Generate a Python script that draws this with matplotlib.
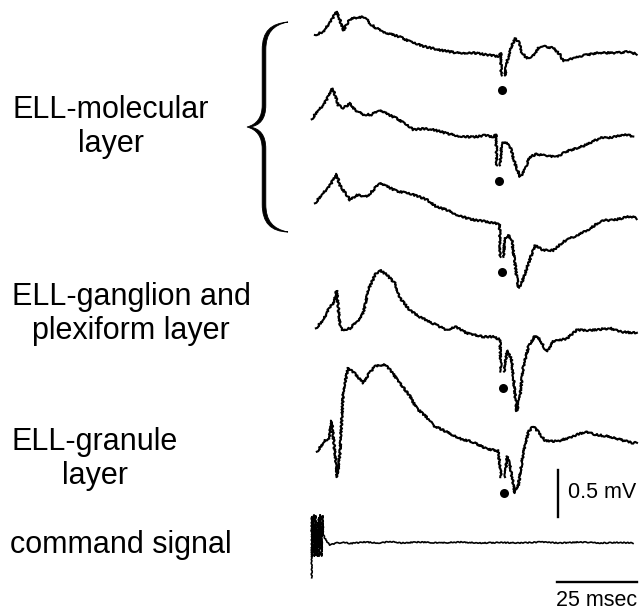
import matplotlib

matplotlib.use("Agg")
import matplotlib.pyplot as plt
import numpy as np
from matplotlib.path import Path
from matplotlib.patches import PathPatch
from matplotlib.transforms import Affine2D

nan = np.nan

# --- field potential traces, time in ms after command, amplitude in mV ---
mol1_t = [0.6, 3.2, 5.8, 7.4, 8.4, 9.5, 10.5, 11.6, 14.2, 16.3, 17.8, 19.9, 23.0, 27.2,
          30.3, 34.5, 39.7, 44.9, 50.1, 54.3, 58.1, 58.7, 58.8, nan, 60.0, 60.5, 61.6,
          63.1, 64.2, 65.2, 66.8, 68.8, 70.4, 72.5, 75.1, 77.2, 78.2, 81.3, 85.5, 89.7,
          94.9, 98.0, 101.2]
mol1_mv = [0.0, 0.035, 0.16, 0.25, 0.16, 0.05, 0.11, 0.17, 0.19, 0.19, 0.12, 0.07, 0.02,
           -0.02, -0.07, -0.12, -0.16, -0.19, -0.19, -0.21, -0.23, -0.19, -0.43, nan,
           -0.43, -0.30, -0.16, -0.035, -0.07, -0.18, -0.25, -0.22, -0.14, -0.12, -0.14,
           -0.21, -0.28, -0.25, -0.21, -0.19, -0.19, -0.18, -0.20]

mol2_t = [-0.4, 1.2, 3.2, 4.8, 6.0, 6.9, 7.9, 9.5, 11.6, 13.1, 15.7, 18.3, 20.9, 23.5,
          26.2, 29.3, 31.3, 34.5, 37.6, 41.8, 45.9, 50.1, 53.8, 56.3, 57.2, 57.4, nan,
          58.4, 59.0, 60.0, 61.6, 63.1, 64.7, 65.7, 67.8, 69.9, 73.0, 76.2, 79.3, 82.4,
          85.5, 89.7, 93.8, 96.9, 100.1]
mol2_mv = [0.0, 0.08, 0.15, 0.24, 0.33, 0.26, 0.15, 0.12, 0.17, 0.10, 0.05, 0.05, 0.10,
           0.05, 0.01, -0.06, -0.11, -0.10, -0.11, -0.15, -0.18, -0.19, -0.17, -0.19,
           -0.16, -0.49, nan, -0.49, -0.26, -0.24, -0.29, -0.47, -0.61, -0.57, -0.40,
           -0.37, -0.39, -0.40, -0.34, -0.31, -0.27, -0.20, -0.19, -0.16, -0.18]

mol3_t = [0.6, 2.7, 5.3, 7.4, 8.4, 10.5, 11.6, 13.7, 16.8, 18.8, 20.9, 23.0, 26.2, 29.3,
          32.4, 35.5, 38.7, 41.8, 44.9, 49.1, 53.2, 56.3, 58.3, 58.5, nan, 59.5, 60.0,
          61.0, 62.1, 63.1, 64.2, 65.2, 67.3, 69.4, 72.0, 75.1, 78.2, 82.4, 86.6, 90.2,
          93.8, 99.1, 101.2]
mol3_mv = [0.0, 0.09, 0.19, 0.31, 0.19, 0.09, 0.035, 0.09, 0.07, 0.14, 0.22, 0.18, 0.13,
           0.11, 0.08, 0.04, -0.04, -0.07, -0.12, -0.17, -0.19, -0.21, -0.22, -0.57, nan,
           -0.57, -0.37, -0.34, -0.39, -0.64, -0.90, -0.85, -0.64, -0.45, -0.50, -0.50,
           -0.41, -0.34, -0.27, -0.18, -0.18, -0.14, -0.16]

gang_t = [0.9, 3.2, 5.3, 6.3, 7.4, 8.4, 9.0, 11.6, 14.2, 15.7, 17.3, 19.4, 20.9, 23.0,
          25.6, 27.2, 30.3, 33.4, 37.6, 41.8, 44.4, 48.0, 53.2, 56.3, 58.4, 58.8, nan,
          59.7, 60.5, 61.0, 62.1, 63.1, 63.7, 64.7, 65.7, 67.3, 69.4, 70.9, 73.0, 75.1,
          79.3, 82.4, 86.6, 92.8, 96.9, 101.2]
gang_mv = [0.0, 0.09, 0.23, 0.25, 0.40, 0.05, -0.02, 0.0, 0.09, 0.16, 0.41, 0.57, 0.62,
           0.57, 0.48, 0.32, 0.19, 0.12, 0.05, -0.02, 0.02, -0.05, -0.09, -0.09, -0.12,
           -0.46, nan, -0.46, -0.27, -0.24, -0.34, -0.69, -0.88, -0.73, -0.41, -0.20,
           -0.08, -0.12, -0.25, -0.14, -0.11, -0.02, -0.02, 0.0, -0.04, -0.05]

gran_t = [1.2, 3.8, 5.1, 5.8, 6.9, 7.6, 8.4, 9.5, 11.0, 13.1, 15.7, 17.3, 19.4, 22.5,
          24.1, 27.2, 30.3, 32.4, 35.5, 37.6, 41.8, 45.9, 50.1, 54.3, 57.9, 58.8, nan,
          60.0, 60.7, 61.6, 63.1, 64.2, 65.7, 67.3, 68.8, 70.4, 72.5, 76.2, 79.3, 82.4,
          85.0, 88.7, 92.8, 96.9, 100.1, 101.2]
gran_mv = [0.0, 0.12, 0.14, 0.33, -0.02, -0.27, -0.02, 0.66, 0.89, 0.83, 0.73, 0.82,
           0.91, 0.93, 0.87, 0.73, 0.59, 0.46, 0.37, 0.28, 0.21, 0.14, 0.10, 0.03, 0.01,
           -0.27, nan, -0.27, -0.05, -0.16, -0.44, -0.35, -0.02, 0.21, 0.27, 0.21, 0.12,
           0.11, 0.14, 0.18, 0.21, 0.18, 0.16, 0.12, 0.09, 0.10]

cmd_t = [-0.4, -0.4, -0.2, 0.2, 0.5, 0.8, 1.3, 1.7, 2.0, 2.3, 2.7, 3.0, 3.2, 4.3, 5.3,
         7.4, 10.0, 11.6, 16.3, 20.9, 24.1, 27.2, 33.4, 39.7, 45.9, 52.2, 58.4, 64.7,
         70.9, 77.2, 83.4, 89.7, 95.9, 100.0]
cmd_mv = [-0.37, 0.28, -0.14, 0.30, -0.14, 0.29, -0.14, 0.27, -0.14, 0.30, -0.14, 0.29,
          0.09, 0.01, -0.02, 0.0, 0.005, -0.005, 0.01, 0.0, 0.015, 0.0, 0.01, 0.0, 0.01,
          0.0, 0.005, 0.0, 0.01, 0.0, 0.01, 0.0, 0.005, 0.0]

# stimulus markers (filled dots) under the five field potential traces
dot_t = [59.2, 58.1, 59.2, 59.5, 59.7]
dot_mv = [-0.59, -0.66, -0.73, -0.64, -0.44]

labels = ["ELL-molecular\nlayer", "ELL-ganglion and\nplexiform layer",
          "ELL-granule\nlayer", "command signal"]
scale_mv = 0.5
scale_ms = 25

# --- layout (pixels of the 641 x 613 figure) ---
W, H = 641, 613
PX_PER_MS = 3.2
PX_PER_MV = 94.0
X0_PX = 313
trace_base_px = [35, 119.3, 203.3, 328.3, 451.7, 543]

fig = plt.figure(figsize=(W / 100, H / 100), dpi=100)
ax = fig.add_axes([0, 0, 1, 1])
ax.set_xlim(-X0_PX / PX_PER_MS, (W - X0_PX) / PX_PER_MS)
ax.set_ylim(-H / PX_PER_MV, 0)
ax.axis("off")

px = Affine2D().scale(1 / W, -1 / H).translate(0, 1) + fig.transFigure

offsets = [-b / PX_PER_MV for b in trace_base_px]
traces = [(mol1_t, mol1_mv), (mol2_t, mol2_mv), (mol3_t, mol3_mv),
          (gang_t, gang_mv), (gran_t, gran_mv)]

for (t, v), off in zip(traces, offsets):
    (ln,) = ax.plot(t, np.asarray(v) + off, color="black", lw=1.5,
                    solid_joinstyle="round")
    ln.set_sketch_params(scale=0.9, length=2.5, randomness=3)

(ln,) = ax.plot(cmd_t, np.asarray(cmd_mv) + offsets[5], color="black", lw=1.2)
ln.set_sketch_params(scale=0.5, length=4, randomness=3)

ax.plot(dot_t, np.asarray(dot_mv) + np.asarray(offsets[:5]), "o", color="black",
        ms=6.5, mec="none")

# scale bars
bar_t = (558.3 - X0_PX) / PX_PER_MS
bar_top = -470 / PX_PER_MV
ax.plot([bar_t, bar_t], [bar_top, bar_top - scale_mv], color="black", lw=1.7)
hb_t0 = (557 - X0_PX) / PX_PER_MS
hb_y = -581.7 / PX_PER_MV
ax.plot([hb_t0, hb_t0 + scale_ms], [hb_y, hb_y], color="black", lw=1.7)

font = "Liberation Sans"
fig.text(568, 493, f"{scale_mv} mV", transform=px, ha="left", va="center",
         fontsize=15.5, family=font)
fig.text(597, 600, f"{scale_ms} msec", transform=px, ha="center", va="center",
         fontsize=15.5, family=font)

label_pos = [(111, 127, "center"), (131, 314, "center"), (95, 459, "center"),
             (10, 545, "left")]
for text, (x, y, ha) in zip(labels, label_pos):
    fig.text(x, y, text, transform=px, ha=ha, va="center", fontsize=22,
             family=font, multialignment="center", linespacing=1.15)

# curly brace grouping the three molecular-layer traces (filled, tapered ends)
verts = [(288, 22), (271, 23.5), (262.2, 31), (262.2, 50), (262.2, 105),
         (262.2, 117), (257, 124.5), (247, 127),
         (257, 129.5), (262.2, 137), (262.2, 149), (262.2, 204),
         (262.2, 223), (271, 231.5), (288, 232),
         (273, 229), (265.8, 221), (265.8, 204), (265.8, 149),
         (265.8, 135), (260, 128.5), (250, 127),
         (260, 125.5), (265.8, 119), (265.8, 105), (265.8, 50),
         (265.8, 33), (273, 25), (288, 22), (288, 22)]
codes = ([Path.MOVETO] + [Path.CURVE4] * 3 + [Path.LINETO] + [Path.CURVE4] * 6
         + [Path.LINETO] + [Path.CURVE4] * 6 + [Path.LINETO] + [Path.CURVE4] * 6
         + [Path.LINETO] + [Path.CURVE4] * 3 + [Path.CLOSEPOLY])
fig.patches.append(PathPatch(Path(verts, codes), transform=px, facecolor="black",
                             edgecolor="black", lw=0.6))

fig.savefig("out.png", dpi=100, facecolor="white")
